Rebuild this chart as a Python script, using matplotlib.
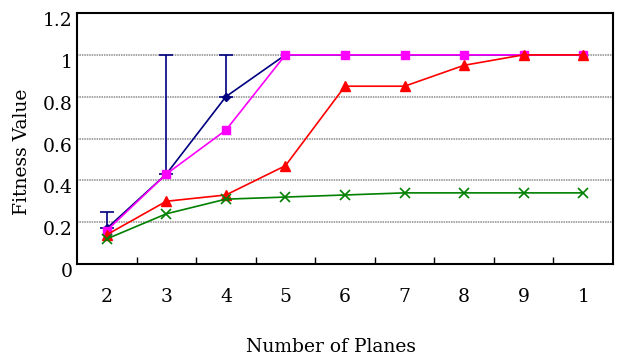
import numpy as np
import matplotlib
matplotlib.use("Agg")
import matplotlib.pyplot as plt
import matplotlib.transforms as mtransforms

plt.rcParams["font.family"] = ["DejaVu Serif"]

planes = [2, 3, 4, 5, 6, 7, 8, 9, 10]
planes_labels = ["2", "3", "4", "5", "6", "7", "8", "9", "1"]

navy_vals = [0.17, 0.43, 0.80, 1.0, 1.0, 1.0, 1.0, 1.0, 1.0]
navy_err_up = [0.08, 0.57, 0.20, 0, 0, 0, 0, 0, 0]
magenta_vals = [0.16, 0.43, 0.64, 1.0, 1.0, 1.0, 1.0, 1.0, 1.0]
red_vals = [0.14, 0.30, 0.33, 0.47, 0.85, 0.85, 0.95, 1.0, 1.0]
green_vals = [0.12, 0.24, 0.31, 0.32, 0.33, 0.34, 0.34, 0.34, 0.34]

yticks = [0, 0.2, 0.4, 0.6, 0.8, 1.0, 1.2]
ytick_labels = ["0", "0.2", "0.4", "0.6", "0.8", "1", "1.2"]


def make_plot():
    fig = plt.figure(figsize=(6.26, 3.59), dpi=100)
    ax = fig.add_axes([77 / 626, 1 - 264 / 359, 536 / 626, 251 / 359])

    # gridlines first so the data sits on top
    for y in yticks[1:-1]:
        ax.axhline(y=y, color="#8c8c8c", linestyle=(0, (1, 0.6)), lw=1.1, zorder=1)

    # navy line, error bars only where there is an error
    x = np.array(planes)
    v = np.array(navy_vals)
    e = np.array(navy_err_up)
    has_err = e > 0
    ax.plot(x, v, color="#000080", marker="D", markersize=4.5, lw=1.2, zorder=3)
    ax.errorbar(
        x[has_err],
        v[has_err],
        yerr=[np.zeros(has_err.sum()), e[has_err]],
        fmt="none",
        ecolor="#000080",
        capsize=5,
        elinewidth=1.2,
        capthick=1.2,
        zorder=3,
    )
    ax.plot(planes, magenta_vals, color="#FF00FF", marker="s", markersize=6, lw=1.2, zorder=4)
    ax.plot(planes, red_vals, color="#FF0000", marker="^", markersize=7, lw=1.2, zorder=5)
    ax.plot(planes, green_vals, color="#008000", marker="x", markersize=6.5,
            markeredgewidth=1.2, lw=1.2, zorder=6)

    ax.set_xlim(1.5, 10.5)
    ax.set_ylim(0, 1.2)

    ax.set_xticks(planes)
    ax.set_xticklabels(planes_labels)
    ax.set_xticks(np.arange(2.5, 10.0, 1.0), minor=True)
    ax.tick_params(axis="x", which="major", length=0, pad=17, labelsize=13.5)
    ax.tick_params(axis="x", which="minor", direction="in", length=5, width=1)

    ax.set_yticks(yticks)
    ax.set_yticklabels(ytick_labels)
    ax.tick_params(axis="y", length=0, pad=3, labelsize=13.5)
    offset = mtransforms.ScaledTranslation(0, -0.06, fig.dpi_scale_trans)
    for lab in ax.get_yticklabels():
        lab.set_transform(lab.get_transform() + offset)

    for sp in ax.spines.values():
        sp.set_linewidth(1.5)
        sp.set_color("black")

    fig.text(22 / 626, 1 - 152 / 359, "Fitness Value", rotation=90,
             ha="center", va="center", fontsize=13.5)
    fig.text(331 / 626, 1 - 347 / 359, "Number of Planes",
             ha="center", va="center", fontsize=13.5)

    fig.savefig("out.png", dpi=100)


if __name__ == "__main__":
    make_plot()
